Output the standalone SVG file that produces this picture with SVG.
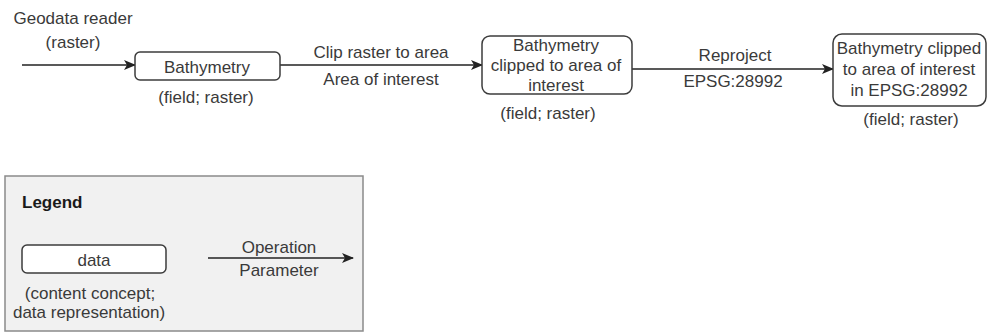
<svg xmlns="http://www.w3.org/2000/svg" width="989" height="332" viewBox="0 0 989 332">
  <style>
    text { font-family: "Liberation Sans", Arial, sans-serif; font-size: 17px; fill: #3a3a3a; text-anchor: middle; }
    .bold { font-weight: bold; fill: #1a1a1a; text-anchor: start; }
    .data { fill: #ffffff; stroke: #3c3c3c; stroke-width: 1.5; }
    .edge { fill: none; stroke: #222222; stroke-width: 1.5; }
  </style>
  <defs>
    <marker id="arrow" viewBox="0 0 12 10" refX="11" refY="5" markerWidth="12" markerHeight="10" markerUnits="userSpaceOnUse" orient="auto">
      <path d="M0,0 L12,5 L0,10 L3,5 Z" fill="#222222"/>
    </marker>
  </defs>

  <rect width="989" height="332" fill="#ffffff"/>

  <!-- legend panel -->
  <g id="legend">
    <rect x="5" y="176" width="358" height="155" fill="#f1f1f1" stroke="#8a8a8a" stroke-width="1.5"/>
    <text class="bold" x="22" y="208">Legend</text>
    <rect class="data" x="22" y="245" width="144" height="28" rx="5"/>
    <text x="94" y="266">data</text>
    <text x="90" y="299">(content concept;</text>
    <text x="89" y="318">data representation)</text>
    <path class="edge" d="M208,258 L353,258" marker-end="url(#arrow)"/>
    <text x="279" y="253">Operation</text>
    <text x="279" y="276">Parameter</text>
  </g>

  <!-- connectors -->
  <g id="connectors">
    <path class="edge" d="M22,65 L135,65" marker-end="url(#arrow)"/>
    <path class="edge" d="M280,65 L482,65" marker-end="url(#arrow)"/>
    <path class="edge" d="M632,69 L833,69" marker-end="url(#arrow)"/>
    <text x="73" y="24">Geodata reader</text>
    <text x="73" y="48">(raster)</text>
    <text x="381" y="58">Clip raster to area</text>
    <text x="381" y="85">Area of interest</text>
    <text x="735" y="61">Reproject</text>
    <text x="733" y="87">EPSG:28992</text>
  </g>

  <g id="bathymetry">
    <rect class="data" x="135" y="52" width="145" height="28" rx="5"/>
    <text x="207" y="73">Bathymetry</text>
    <text x="206" y="103">(field; raster)</text>
  </g>

  <g id="bathymetry-clipped">
    <rect class="data" x="482" y="36" width="150" height="58" rx="8"/>
    <text x="556" y="51">Bathymetry</text>
    <text x="556" y="71">clipped to area of</text>
    <text x="556" y="91">interest</text>
    <text x="548" y="119">(field; raster)</text>
  </g>

  <g id="bathymetry-reprojected">
    <rect class="data" x="833" y="34" width="153" height="72" rx="9"/>
    <text x="909" y="54">Bathymetry clipped</text>
    <text x="909" y="75">to area of interest</text>
    <text x="909" y="96">in EPSG:28992</text>
    <text x="911" y="125">(field; raster)</text>
  </g>
</svg>
